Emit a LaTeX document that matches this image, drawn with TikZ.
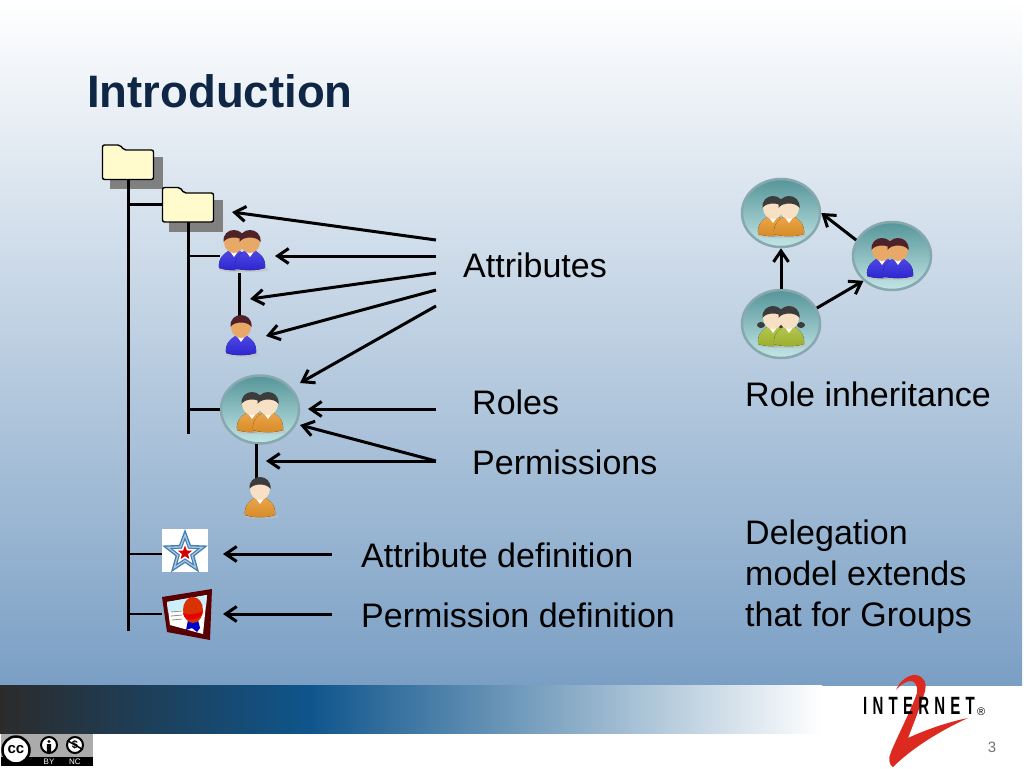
\documentclass[tikz,border=0pt]{standalone}
\usepackage{fontspec}
\setmainfont{Liberation Sans}
\newfontfamily\logofont[LetterSpace=35]{Liberation Sans}
\usetikzlibrary{arrows.meta,shapes.geometric}
\definecolor{bgLow}{HTML}{7A9FC4}
\definecolor{titleInk}{HTML}{0F2744}
\definecolor{barDark}{HTML}{2B2B2B}
\definecolor{barBlue}{HTML}{0F558C}
\definecolor{folderFill}{HTML}{FFFBCC}
\definecolor{shirtBlue}{HTML}{3028E0}
\definecolor{shirtOrange}{HTML}{E8962A}
\definecolor{shirtGreen}{HTML}{A8BC32}
\definecolor{hairRed}{HTML}{4E2228}
\definecolor{hairGrey}{HTML}{3C3C3C}
\definecolor{skinTan}{HTML}{E8A868}
\definecolor{skinPale}{HTML}{F7E0C4}
\definecolor{ringTeal}{HTML}{86A8AE}
\definecolor{ringTop}{HTML}{559599}
\definecolor{ringLow}{HTML}{C4E6E6}
\definecolor{logoRed}{HTML}{DD2A20}
\definecolor{starBlue}{HTML}{3F7FB5}
\definecolor{starPale}{HTML}{AFC8DC}
\tikzset{
  tree/.style={line width=3pt},
  twig/.style={line width=2.5pt},
  pointer/.style={line width=3pt,-{Straight Barb[length=11pt,width=15pt,line width=3pt]}},
  label/.style={inner sep=0pt,anchor=west,font=\fontsize{34}{41}\selectfont,align=left},
  folder/.style={inner sep=0pt,minimum width=52pt,minimum height=35pt},
  foldershape/.style={draw=black,line width=1.4pt,fill=folderFill,rounded corners=2pt},
  slot/.style={inner sep=0pt,minimum width=#1,minimum height=38pt},
  rolering/.style={ellipse,draw=ringTeal,line width=2.5pt,minimum width=78pt,minimum height=68pt,inner sep=0pt,top color=ringTop,bottom color=ringLow},
  starlayer/.style={star,star points=5,star point ratio=2.4,inner sep=0pt}
}
% one figure, centred on (#1); shirt, hair, skin
\newcommand{\staffer}[4]{
  \begin{scope}[shift={(#1)}]
    \fill[black!25,opacity=.6] (2,18.5) ellipse (17 and 2.5);
    \fill[top color=#2!85!white,bottom color=#2!92!black] (-15,17) .. controls (-16,6) and (-9,2) .. (-4,-1) -- (4,-1) .. controls (9,2) and (16,6) .. (15,17) .. controls (6,20) and (-6,20) .. (-15,17) -- cycle;
    \fill[white] (-5,-1) -- (0,6) -- (5,-1) -- cycle;
    \fill[#4] (0,-9) ellipse (10 and 11);
    \fill[#3] (-10.5,-9) .. controls (-12,-25) and (12,-25) .. (10.5,-9) .. controls (7,-15) and (-7,-15) .. (-10.5,-9) -- cycle;
  \end{scope}
}
\newcommand{\stafferpair}[4]{
  \begin{scope}[shift={(#1)}]
    \staffer{-8,0}{#2}{#3}{#4}
    \staffer{8,0}{#2}{#3}{#4}
  \end{scope}
}
\begin{document}
\begin{tikzpicture}[x=1pt,y=-1pt]
\useasboundingbox (0,0) rectangle (1024,768);
% slide background
\fill[white] (0,0) rectangle (1024,768);
\fill[top color=white,bottom color=bgLow] (0,0) rectangle (1022,685);
\fill[left color=barDark,right color=barBlue] (0,685) rectangle (310,733);
\fill[left color=barBlue,right color=white] (310,685) rectangle (822,733);
\node[anchor=west,inner sep=0pt,text=titleInk,font=\bfseries\fontsize{45.5}{50}\selectfont] (title) at (87,91) {Introduction};
% folders
\fill[black!50] (110,157) rectangle (163,189);
\fill[black!50] (169,200) rectangle (223,232);
\node[folder] (folderA) at (128,162) {};
\draw[foldershape] (102.5,179.5) -- (102.5,145) -- (120,145) -- (124,150) -- (153.5,150) -- (153.5,179.5) -- cycle;
\node[folder] (folderB) at (188,204.5) {};
\draw[foldershape] (162.5,222) -- (162.5,187.5) -- (180,187.5) -- (184,193) -- (213.5,193) -- (213.5,222) -- cycle;
% tree of icons
\node[slot=44pt] (attrPair) at (242,256) {};
\node[slot=30pt] (attrOne) at (241,336) {};
\node[rolering] (roleMain) at (260,409.5) {};
\node[slot=30pt] (roleOne) at (260,498) {};
\node[inner sep=0pt,minimum width=46pt,minimum height=43pt,fill=white] (defStar) at (185,550.5) {};
\node[inner sep=0pt,minimum width=50pt,minimum height=46pt] (defCert) at (187,614) {};
\coordinate (trunkEnd) at (128,631);
\coordinate (subEnd) at (188,434);
\coordinate (attrLinkTop) at (239,273);
\coordinate (attrLinkEnd) at (239,316);
\coordinate (roleLinkTop) at (256,444);
\coordinate (roleLinkEnd) at (256,478);
\coordinate (starJoin) at (162,554);
\draw[tree] (folderA.south) -- (trunkEnd);
\draw[tree] (folderB.south) -- (subEnd);
\draw[twig] (folderA.south |- folderB.west) -- (folderB.west);
\draw[twig] (folderB.south |- attrPair.west) -- (attrPair.west);
\draw[twig] (folderB.south |- roleMain.west) -- (roleMain.west);
\draw[tree] (attrLinkTop) -- (attrLinkEnd);
\draw[tree] (roleLinkTop) -- (roleLinkEnd);
\draw[twig] (folderA.south |- starJoin) -- (starJoin);
\draw[twig] (folderA.south |- defCert.west) -- (defCert.west);
\stafferpair{242,251}{shirtBlue}{hairRed}{skinTan}
\staffer{241,336}{shirtBlue}{hairRed}{skinTan}
\stafferpair{260,413}{shirtOrange}{hairGrey}{skinPale}
\staffer{260,498}{shirtOrange}{hairGrey}{skinPale}
% star and certificate
\node[starlayer,fill=starBlue,minimum size=48pt] (starOuter) at (185,553) {};
\node[starlayer,fill=starPale,minimum size=40pt] (starPaleBand) at (185,553) {};
\node[starlayer,fill=starBlue,minimum size=32pt] (starMid) at (185,553) {};
\node[starlayer,fill=white,minimum size=25pt] (starInner) at (185,553) {};
\node[starlayer,fill=red!85!black,minimum size=15pt] (starCore) at (185,553) {};
\fill[black!65!red] (162,597) -- (212,589) -- (210,640) -- (167,632) -- cycle;
\fill[white] (167,602) -- (207,595) -- (203,634) -- (170,625) -- cycle;
\fill[cyan!20] (167,602) -- (207,595) -- (206,606) -- (168,612) -- cycle;
\fill[blue!80!black] (188,620) -- (186,630) -- (192,628) -- (197,632) -- (200,628) -- (198,620) -- cycle;
\fill[red!55!orange!85!black] (193,610) ellipse (10 and 13);
\fill[red!90!black] (183,613) .. controls (188,616) and (197,614) .. (203,611) .. controls (203,620) and (184,624) .. (183,613) -- cycle;
\draw[black!45,line width=.8pt] (171,612) -- (182,611) (171,616) -- (182,615) (172,620) -- (182,619);
% attribute and role pointers
\coordinate (attrFromA) at (436,240);
\coordinate (attrToA) at (232,212);
\coordinate (attrFromB) at (436,256);
\coordinate (attrToB) at (275,256);
\coordinate (attrFromC) at (436,273);
\coordinate (attrToC) at (250,299);
\coordinate (attrFromD) at (436,290);
\coordinate (attrToD) at (266,336);
\coordinate (attrFromE) at (436,306);
\coordinate (attrToE) at (300,383);
\coordinate (roleFrom) at (436,409);
\coordinate (roleTo) at (308,409);
\coordinate (permFrom) at (436,461);
\coordinate (permToA) at (300,425);
\coordinate (permToB) at (266,461);
\coordinate (starFrom) at (332,554);
\coordinate (starTo) at (223,554);
\coordinate (certFrom) at (332,614);
\coordinate (certTo) at (223,614);
\draw[pointer] (attrFromA) -- (attrToA);
\draw[pointer] (attrFromB) -- (attrToB);
\draw[pointer] (attrFromC) -- (attrToC);
\draw[pointer] (attrFromD) -- (attrToD);
\draw[pointer] (attrFromE) -- (attrToE);
\draw[pointer] (roleFrom) -- (roleTo);
\draw[pointer] (permFrom) -- (permToA);
\draw[pointer] (permFrom) -- (permToB);
\draw[pointer] (starFrom) -- (starTo);
\draw[pointer] (certFrom) -- (certTo);
\node[label] (lblAttr) at (463,265) {Attributes};
\node[label] (lblRoles) at (472,402) {Roles};
\node[label] (lblPerm) at (472,462) {Permissions};
\node[label] (lblStar) at (361,555) {Attribute definition};
\node[label] (lblCert) at (361,615) {Permission definition};
% role inheritance
\node[rolering] (roleTop) at (781,213) {};
\node[rolering] (roleRight) at (892,256) {};
\node[rolering] (roleLow) at (781,324) {};
\stafferpair{781,217}{shirtOrange}{hairGrey}{skinPale}
\stafferpair{890,259}{shirtBlue}{hairRed}{skinTan}
\fill[hairGrey] (761,325) ellipse (4 and 3) (781,325) ellipse (4 and 3) (801,325) ellipse (4 and 3);
\stafferpair{781,327}{shirtGreen}{hairGrey}{skinPale}
\draw[pointer] (roleLow.north) -- (roleTop.south);
\draw[pointer] (roleLow.24) -- (roleRight.221);
\draw[pointer] (roleRight.156) -- (roleTop.0);
\node[label] (lblInherit) at (745,394) {Role inheritance};
\node[label] (lblGroups) at (745,576.5) {Delegation\\model extends\\that for Groups};
% footer
\node[inner sep=0pt,minimum width=92pt,minimum height=32pt,fill=black!33] (ccBadge) at (47,750) {};
\fill[black] (1,757) rectangle (93,766);
\node[circle,draw=black,line width=2.5pt,fill=white,minimum size=27pt,inner sep=0pt,font=\bfseries\fontsize{15}{15}\selectfont] (ccMark) at (16,750) {cc};
\node[circle,draw=black,line width=2pt,fill=white,minimum size=16pt,inner sep=0pt] (ccBy) at (49,745) {};
\fill[black] (49,741.5) circle (1.6) (46.8,744) rectangle (51.2,752);
\node[circle,draw=black,line width=2pt,fill=white,minimum size=16pt,inner sep=0pt,font=\bfseries\fontsize{11}{11}\selectfont] (ccNc) at (75,745) {\$};
\draw[black,line width=1.5pt] (ccNc.150) -- (ccNc.-30);
\node[text=white,inner sep=0pt,font=\fontsize{8}{8}\selectfont] (ccByText) at (49,761.5) {BY};
\node[text=white,inner sep=0pt,font=\fontsize{8}{8}\selectfont] (ccNcText) at (75,761.5) {NC};
\fill[logoRed] (896,690) .. controls (900,680) and (910,674) .. (916,675) .. controls (925,677) and (927,684) .. (925,691) .. controls (921,705) and (913,725) .. (908,738) .. controls (925,730) and (948,722) .. (968,718) .. controls (948,727) and (915,745) .. (893,767) .. controls (889,765) and (888,758) .. (891,752) .. controls (898,735) and (912,708) .. (917,693) .. controls (918,686) and (915,681) .. (911,681) .. controls (906,681) and (900,685) .. (896,690) -- cycle;
\node[inner sep=0pt,anchor=west,xscale=.6,font=\logofont\bfseries\fontsize{25}{25}\selectfont] (logoText) at (863,706) {INTERNET};
\node[inner sep=0pt,anchor=west,font=\fontsize{11}{11}\selectfont] (logoMark) at (977,712) {®};
\node[inner sep=0pt,text=black!55,font=\fontsize{15}{15}\selectfont] (pageNo) at (992,747) {3};
\end{tikzpicture}
\end{document}
